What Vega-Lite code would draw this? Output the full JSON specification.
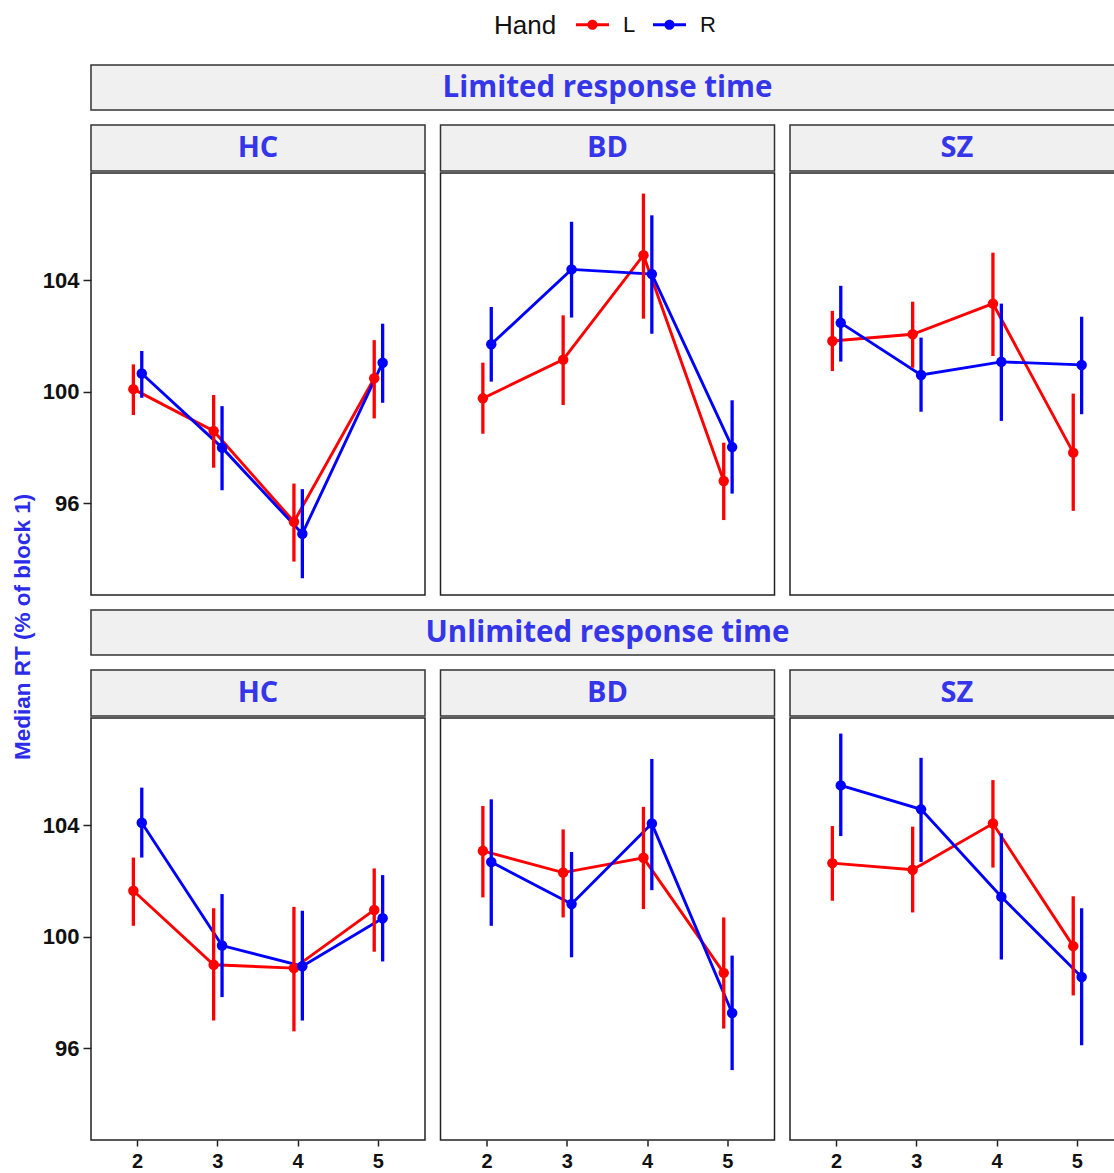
{
  "$schema": "https://vega.github.io/schema/vega-lite/v6.json",
  "padding": {"left": 12, "top": 8, "right": 0, "bottom": 2},
  "background": "white",
  "title": {"text": "Median RT (% of block 1)", "orient": "left", "anchor": "middle", "frame": "bounds", "font": "Liberation Sans", "fontWeight": "bold", "fontSize": 22.5, "color": "#2B2BEA", "offset": 7, "dx": -37},
  "datasets": {
    "rt": [
      {"cond": "Limited", "group": "HC", "block": 2, "hand": "L", "rt": 100.09, "lo": 99.16, "hi": 100.98},
      {"cond": "Limited", "group": "HC", "block": 3, "hand": "L", "rt": 98.59, "lo": 97.27, "hi": 99.88},
      {"cond": "Limited", "group": "HC", "block": 4, "hand": "L", "rt": 95.33, "lo": 93.9, "hi": 96.7},
      {"cond": "Limited", "group": "HC", "block": 5, "hand": "L", "rt": 100.48, "lo": 99.04, "hi": 101.85},
      {"cond": "Limited", "group": "HC", "block": 2, "hand": "R", "rt": 100.65, "lo": 99.78, "hi": 101.46},
      {"cond": "Limited", "group": "HC", "block": 3, "hand": "R", "rt": 97.99, "lo": 96.46, "hi": 99.48},
      {"cond": "Limited", "group": "HC", "block": 4, "hand": "R", "rt": 94.9, "lo": 93.3, "hi": 96.5},
      {"cond": "Limited", "group": "HC", "block": 5, "hand": "R", "rt": 101.04, "lo": 99.6, "hi": 102.44},
      {"cond": "Limited", "group": "BD", "block": 2, "hand": "L", "rt": 99.76, "lo": 98.49, "hi": 101.04},
      {"cond": "Limited", "group": "BD", "block": 3, "hand": "L", "rt": 101.15, "lo": 99.52, "hi": 102.74},
      {"cond": "Limited", "group": "BD", "block": 4, "hand": "L", "rt": 104.9, "lo": 102.62, "hi": 107.11},
      {"cond": "Limited", "group": "BD", "block": 5, "hand": "L", "rt": 96.79, "lo": 95.39, "hi": 98.17},
      {"cond": "Limited", "group": "BD", "block": 2, "hand": "R", "rt": 101.7, "lo": 100.36, "hi": 103.04},
      {"cond": "Limited", "group": "BD", "block": 3, "hand": "R", "rt": 104.39, "lo": 102.66, "hi": 106.1},
      {"cond": "Limited", "group": "BD", "block": 4, "hand": "R", "rt": 104.22, "lo": 102.08, "hi": 106.33},
      {"cond": "Limited", "group": "BD", "block": 5, "hand": "R", "rt": 98.01, "lo": 96.34, "hi": 99.69},
      {"cond": "Limited", "group": "SZ", "block": 2, "hand": "L", "rt": 101.82, "lo": 100.74, "hi": 102.9},
      {"cond": "Limited", "group": "SZ", "block": 3, "hand": "L", "rt": 102.06, "lo": 100.86, "hi": 103.23},
      {"cond": "Limited", "group": "SZ", "block": 4, "hand": "L", "rt": 103.16, "lo": 101.28, "hi": 104.99},
      {"cond": "Limited", "group": "SZ", "block": 5, "hand": "L", "rt": 97.81, "lo": 95.72, "hi": 99.93},
      {"cond": "Limited", "group": "SZ", "block": 2, "hand": "R", "rt": 102.47, "lo": 101.08, "hi": 103.8},
      {"cond": "Limited", "group": "SZ", "block": 3, "hand": "R", "rt": 100.6, "lo": 99.28, "hi": 101.94},
      {"cond": "Limited", "group": "SZ", "block": 4, "hand": "R", "rt": 101.07, "lo": 98.95, "hi": 103.16},
      {"cond": "Limited", "group": "SZ", "block": 5, "hand": "R", "rt": 100.96, "lo": 99.19, "hi": 102.69},
      {"cond": "Unlimited", "group": "HC", "block": 2, "hand": "L", "rt": 101.65, "lo": 100.39, "hi": 102.84},
      {"cond": "Unlimited", "group": "HC", "block": 3, "hand": "L", "rt": 98.99, "lo": 96.99, "hi": 101.02},
      {"cond": "Unlimited", "group": "HC", "block": 4, "hand": "L", "rt": 98.87, "lo": 96.6, "hi": 101.07},
      {"cond": "Unlimited", "group": "HC", "block": 5, "hand": "L", "rt": 100.96, "lo": 99.46, "hi": 102.45},
      {"cond": "Unlimited", "group": "HC", "block": 2, "hand": "R", "rt": 104.09, "lo": 102.84, "hi": 105.35},
      {"cond": "Unlimited", "group": "HC", "block": 3, "hand": "R", "rt": 99.68, "lo": 97.83, "hi": 101.53},
      {"cond": "Unlimited", "group": "HC", "block": 4, "hand": "R", "rt": 98.94, "lo": 96.99, "hi": 100.93},
      {"cond": "Unlimited", "group": "HC", "block": 5, "hand": "R", "rt": 100.66, "lo": 99.11, "hi": 102.21},
      {"cond": "Unlimited", "group": "BD", "block": 2, "hand": "L", "rt": 103.08, "lo": 101.41, "hi": 104.69},
      {"cond": "Unlimited", "group": "BD", "block": 3, "hand": "L", "rt": 102.3, "lo": 100.69, "hi": 103.85},
      {"cond": "Unlimited", "group": "BD", "block": 4, "hand": "L", "rt": 102.83, "lo": 100.99, "hi": 104.66},
      {"cond": "Unlimited", "group": "BD", "block": 5, "hand": "L", "rt": 98.7, "lo": 96.7, "hi": 100.69},
      {"cond": "Unlimited", "group": "BD", "block": 2, "hand": "R", "rt": 102.68, "lo": 100.39, "hi": 104.93},
      {"cond": "Unlimited", "group": "BD", "block": 3, "hand": "R", "rt": 101.17, "lo": 99.26, "hi": 103.04},
      {"cond": "Unlimited", "group": "BD", "block": 4, "hand": "R", "rt": 104.06, "lo": 101.67, "hi": 106.38},
      {"cond": "Unlimited", "group": "BD", "block": 5, "hand": "R", "rt": 97.26, "lo": 95.21, "hi": 99.32},
      {"cond": "Unlimited", "group": "SZ", "block": 2, "hand": "L", "rt": 102.64, "lo": 101.29, "hi": 103.97},
      {"cond": "Unlimited", "group": "SZ", "block": 3, "hand": "L", "rt": 102.4, "lo": 100.87, "hi": 103.95},
      {"cond": "Unlimited", "group": "SZ", "block": 4, "hand": "L", "rt": 104.06, "lo": 102.48, "hi": 105.62},
      {"cond": "Unlimited", "group": "SZ", "block": 5, "hand": "L", "rt": 99.66, "lo": 97.89, "hi": 101.45},
      {"cond": "Unlimited", "group": "SZ", "block": 2, "hand": "R", "rt": 105.43, "lo": 103.61, "hi": 107.29},
      {"cond": "Unlimited", "group": "SZ", "block": 3, "hand": "R", "rt": 104.57, "lo": 102.68, "hi": 106.42},
      {"cond": "Unlimited", "group": "SZ", "block": 4, "hand": "R", "rt": 101.43, "lo": 99.18, "hi": 103.71},
      {"cond": "Unlimited", "group": "SZ", "block": 5, "hand": "R", "rt": 98.55, "lo": 96.1, "hi": 101.02}
    ]
  },
  "spacing": 13,
  "resolve": {"scale": {"x": "independent", "y": "independent", "xOffset": "independent"}},
  "vconcat": [
    {
      "width": 1033, "height": 45,
      "data": {"values": [{"t": "Limited response time"}]},
      "view": {"fill": "#f0f0f0", "stroke": "#333333", "strokeWidth": 1.5},
      "mark": {"type": "text", "font": "Open Sans", "fontWeight": "bold", "fontSize": 29.5, "color": "#3535EA"},
      "encoding": {"text": {"field": "t"}}
    },
    {
      "spacing": 13.5,
      "resolve": {"scale": {"x": "independent", "y": "independent", "xOffset": "independent"}},
      "hconcat": [
        {
          "spacing": 0,
          "resolve": {"scale": {"x": "independent", "y": "independent", "xOffset": "independent"}},
          "vconcat": [
            {
              "width": 334, "height": 46,
              "data": {"values": [{"t": "HC"}]},
              "view": {"fill": "#f0f0f0", "stroke": "#333333", "strokeWidth": 1.5},
              "mark": {"type": "text", "font": "Open Sans", "fontWeight": "bold", "fontSize": 29, "color": "#3535EA"},
              "encoding": {"text": {"field": "t"}}
            },
            {
              "width": 334, "height": 422,
              "view": {"stroke": "#222222", "strokeWidth": 1.5},
              "data": {"name": "rt"},
              "transform": [{"filter": "datum.cond === 'Limited' && datum.group === 'HC'"}],
              "encoding": {
                "x": {"field": "block", "type": "ordinal", "scale": {"type": "band", "paddingInner": 0, "paddingOuter": 0.08}, "axis": null},
                "xOffset": {"field": "hand", "type": "nominal", "scale": {"type": "point", "padding": 0, "range": [35.94, 44.34]}},
                "color": {"field": "hand", "type": "nominal", "title": "Hand", "scale": {"domain": ["L", "R"], "range": ["#ff0000", "#0000ff"]}, "legend": {"orient": "none", "legendX": 403, "legendY": -57, "symbolSize": 1089, "encode": {"symbols": {"update": {"size": {"value": 1089}, "strokeWidth": {"value": 0}}}, "title": {"update": {"dy": {"value": 4}}}}}},
                "y": {"field": "rt", "type": "quantitative", "scale": {"domain": [92.7, 107.85], "nice": false, "zero": false}, "axis": {"values": [96, 100, 104], "title": null, "domain": false, "grid": false, "ticks": true, "tickSize": 8, "tickWidth": 1.5, "tickColor": "#222222", "labelPadding": 4, "labelFont": "Liberation Sans", "labelFontWeight": "bold", "labelFontSize": 22, "labelColor": "#111111"}}
              },
              "layer": [
                {"mark": {"type": "line", "strokeWidth": 2.9}},
                {"mark": {"type": "rule", "strokeWidth": 3.3}, "encoding": {"y": {"field": "lo", "type": "quantitative", "title": null}, "y2": {"field": "hi"}}},
                {"mark": {"type": "point", "filled": true, "size": 110, "opacity": 1}}
              ]
            }
          ]
        },
        {
          "spacing": 0,
          "resolve": {"scale": {"x": "independent", "y": "independent", "xOffset": "independent"}},
          "vconcat": [
            {
              "width": 334, "height": 46,
              "data": {"values": [{"t": "BD"}]},
              "view": {"fill": "#f0f0f0", "stroke": "#333333", "strokeWidth": 1.5},
              "mark": {"type": "text", "font": "Open Sans", "fontWeight": "bold", "fontSize": 29, "color": "#3535EA"},
              "encoding": {"text": {"field": "t"}}
            },
            {
              "width": 334, "height": 422,
              "view": {"stroke": "#222222", "strokeWidth": 1.5},
              "data": {"name": "rt"},
              "transform": [{"filter": "datum.cond === 'Limited' && datum.group === 'BD'"}],
              "encoding": {
                "x": {"field": "block", "type": "ordinal", "scale": {"type": "band", "paddingInner": 0, "paddingOuter": 0.08}, "axis": null},
                "xOffset": {"field": "hand", "type": "nominal", "scale": {"type": "point", "padding": 0, "range": [35.94, 44.34]}},
                "color": {"field": "hand", "type": "nominal", "title": "Hand", "scale": {"domain": ["L", "R"], "range": ["#ff0000", "#0000ff"]}},
                "y": {"field": "rt", "type": "quantitative", "scale": {"domain": [92.7, 107.85], "nice": false, "zero": false}, "axis": null}
              },
              "layer": [
                {"mark": {"type": "line", "strokeWidth": 2.9}},
                {"mark": {"type": "rule", "strokeWidth": 3.3}, "encoding": {"y": {"field": "lo", "type": "quantitative", "axis": null}, "y2": {"field": "hi"}}},
                {"mark": {"type": "point", "filled": true, "size": 110, "opacity": 1}}
              ]
            }
          ]
        },
        {
          "spacing": 0,
          "resolve": {"scale": {"x": "independent", "y": "independent", "xOffset": "independent"}},
          "vconcat": [
            {
              "width": 334, "height": 46,
              "data": {"values": [{"t": "SZ"}]},
              "view": {"fill": "#f0f0f0", "stroke": "#333333", "strokeWidth": 1.5},
              "mark": {"type": "text", "font": "Open Sans", "fontWeight": "bold", "fontSize": 29, "color": "#3535EA"},
              "encoding": {"text": {"field": "t"}}
            },
            {
              "width": 334, "height": 422,
              "view": {"stroke": "#222222", "strokeWidth": 1.5},
              "data": {"name": "rt"},
              "transform": [{"filter": "datum.cond === 'Limited' && datum.group === 'SZ'"}],
              "encoding": {
                "x": {"field": "block", "type": "ordinal", "scale": {"type": "band", "paddingInner": 0, "paddingOuter": 0.08}, "axis": null},
                "xOffset": {"field": "hand", "type": "nominal", "scale": {"type": "point", "padding": 0, "range": [35.94, 44.34]}},
                "color": {"field": "hand", "type": "nominal", "title": "Hand", "scale": {"domain": ["L", "R"], "range": ["#ff0000", "#0000ff"]}},
                "y": {"field": "rt", "type": "quantitative", "scale": {"domain": [92.7, 107.85], "nice": false, "zero": false}, "axis": null}
              },
              "layer": [
                {"mark": {"type": "line", "strokeWidth": 2.9}},
                {"mark": {"type": "rule", "strokeWidth": 3.3}, "encoding": {"y": {"field": "lo", "type": "quantitative", "axis": null}, "y2": {"field": "hi"}}},
                {"mark": {"type": "point", "filled": true, "size": 110, "opacity": 1}}
              ]
            }
          ]
        }
      ]
    },
    {
      "width": 1033, "height": 45,
      "data": {"values": [{"t": "Unlimited response time"}]},
      "view": {"fill": "#f0f0f0", "stroke": "#333333", "strokeWidth": 1.5},
      "mark": {"type": "text", "font": "Open Sans", "fontWeight": "bold", "fontSize": 29.5, "color": "#3535EA"},
      "encoding": {"text": {"field": "t"}}
    },
    {
      "spacing": 13.5,
      "resolve": {"scale": {"x": "independent", "y": "independent", "xOffset": "independent"}},
      "hconcat": [
        {
          "spacing": 0,
          "resolve": {"scale": {"x": "independent", "y": "independent", "xOffset": "independent"}},
          "vconcat": [
            {
              "width": 334, "height": 46,
              "data": {"values": [{"t": "HC"}]},
              "view": {"fill": "#f0f0f0", "stroke": "#333333", "strokeWidth": 1.5},
              "mark": {"type": "text", "font": "Open Sans", "fontWeight": "bold", "fontSize": 29, "color": "#3535EA"},
              "encoding": {"text": {"field": "t"}}
            },
            {
              "width": 334, "height": 422,
              "view": {"stroke": "#222222", "strokeWidth": 1.5},
              "data": {"name": "rt"},
              "transform": [{"filter": "datum.cond === 'Unlimited' && datum.group === 'HC'"}],
              "encoding": {
                "x": {"field": "block", "type": "ordinal", "scale": {"type": "band", "paddingInner": 0, "paddingOuter": 0.08}, "axis": {"title": null, "domain": false, "grid": false, "tickSize": 6, "tickWidth": 1.5, "tickColor": "#222222", "labelAngle": 0, "labelPadding": 5, "labelFont": "Liberation Sans", "labelFontWeight": "bold", "labelFontSize": 20, "labelColor": "#111111"}},
                "xOffset": {"field": "hand", "type": "nominal", "scale": {"type": "point", "padding": 0, "range": [35.94, 44.34]}},
                "color": {"field": "hand", "type": "nominal", "title": "Hand", "scale": {"domain": ["L", "R"], "range": ["#ff0000", "#0000ff"]}},
                "y": {"field": "rt", "type": "quantitative", "scale": {"domain": [92.7, 107.85], "nice": false, "zero": false}, "axis": {"values": [96, 100, 104], "title": null, "domain": false, "grid": false, "ticks": true, "tickSize": 8, "tickWidth": 1.5, "tickColor": "#222222", "labelPadding": 4, "labelFont": "Liberation Sans", "labelFontWeight": "bold", "labelFontSize": 22, "labelColor": "#111111"}}
              },
              "layer": [
                {"mark": {"type": "line", "strokeWidth": 2.9}},
                {"mark": {"type": "rule", "strokeWidth": 3.3}, "encoding": {"y": {"field": "lo", "type": "quantitative", "title": null}, "y2": {"field": "hi"}}},
                {"mark": {"type": "point", "filled": true, "size": 110, "opacity": 1}}
              ]
            }
          ]
        },
        {
          "spacing": 0,
          "resolve": {"scale": {"x": "independent", "y": "independent", "xOffset": "independent"}},
          "vconcat": [
            {
              "width": 334, "height": 46,
              "data": {"values": [{"t": "BD"}]},
              "view": {"fill": "#f0f0f0", "stroke": "#333333", "strokeWidth": 1.5},
              "mark": {"type": "text", "font": "Open Sans", "fontWeight": "bold", "fontSize": 29, "color": "#3535EA"},
              "encoding": {"text": {"field": "t"}}
            },
            {
              "width": 334, "height": 422,
              "view": {"stroke": "#222222", "strokeWidth": 1.5},
              "data": {"name": "rt"},
              "transform": [{"filter": "datum.cond === 'Unlimited' && datum.group === 'BD'"}],
              "encoding": {
                "x": {"field": "block", "type": "ordinal", "scale": {"type": "band", "paddingInner": 0, "paddingOuter": 0.08}, "axis": {"title": null, "domain": false, "grid": false, "tickSize": 6, "tickWidth": 1.5, "tickColor": "#222222", "labelAngle": 0, "labelPadding": 5, "labelFont": "Liberation Sans", "labelFontWeight": "bold", "labelFontSize": 20, "labelColor": "#111111"}},
                "xOffset": {"field": "hand", "type": "nominal", "scale": {"type": "point", "padding": 0, "range": [35.94, 44.34]}},
                "color": {"field": "hand", "type": "nominal", "title": "Hand", "scale": {"domain": ["L", "R"], "range": ["#ff0000", "#0000ff"]}},
                "y": {"field": "rt", "type": "quantitative", "scale": {"domain": [92.7, 107.85], "nice": false, "zero": false}, "axis": null}
              },
              "layer": [
                {"mark": {"type": "line", "strokeWidth": 2.9}},
                {"mark": {"type": "rule", "strokeWidth": 3.3}, "encoding": {"y": {"field": "lo", "type": "quantitative", "axis": null}, "y2": {"field": "hi"}}},
                {"mark": {"type": "point", "filled": true, "size": 110, "opacity": 1}}
              ]
            }
          ]
        },
        {
          "spacing": 0,
          "resolve": {"scale": {"x": "independent", "y": "independent", "xOffset": "independent"}},
          "vconcat": [
            {
              "width": 334, "height": 46,
              "data": {"values": [{"t": "SZ"}]},
              "view": {"fill": "#f0f0f0", "stroke": "#333333", "strokeWidth": 1.5},
              "mark": {"type": "text", "font": "Open Sans", "fontWeight": "bold", "fontSize": 29, "color": "#3535EA"},
              "encoding": {"text": {"field": "t"}}
            },
            {
              "width": 334, "height": 422,
              "view": {"stroke": "#222222", "strokeWidth": 1.5},
              "data": {"name": "rt"},
              "transform": [{"filter": "datum.cond === 'Unlimited' && datum.group === 'SZ'"}],
              "encoding": {
                "x": {"field": "block", "type": "ordinal", "scale": {"type": "band", "paddingInner": 0, "paddingOuter": 0.08}, "axis": {"title": null, "domain": false, "grid": false, "tickSize": 6, "tickWidth": 1.5, "tickColor": "#222222", "labelAngle": 0, "labelPadding": 5, "labelFont": "Liberation Sans", "labelFontWeight": "bold", "labelFontSize": 20, "labelColor": "#111111"}},
                "xOffset": {"field": "hand", "type": "nominal", "scale": {"type": "point", "padding": 0, "range": [35.94, 44.34]}},
                "color": {"field": "hand", "type": "nominal", "title": "Hand", "scale": {"domain": ["L", "R"], "range": ["#ff0000", "#0000ff"]}},
                "y": {"field": "rt", "type": "quantitative", "scale": {"domain": [92.7, 107.85], "nice": false, "zero": false}, "axis": null}
              },
              "layer": [
                {"mark": {"type": "line", "strokeWidth": 2.9}},
                {"mark": {"type": "rule", "strokeWidth": 3.3}, "encoding": {"y": {"field": "lo", "type": "quantitative", "axis": null}, "y2": {"field": "hi"}}},
                {"mark": {"type": "point", "filled": true, "size": 110, "opacity": 1}}
              ]
            }
          ]
        }
      ]
    }
  ],
  "config": {
    "legend": {
      "orient": "none",
      "direction": "horizontal",
      "titleOrient": "left",
      "titleAnchor": "middle",
      "titleBaseline": "middle",
      "titleFont": "Liberation Sans",
      "titleFontSize": 26,
      "titleFontWeight": "normal",
      "titleColor": "#111111",
      "titlePadding": 19,
      "labelFont": "Liberation Sans",
      "labelFontSize": 22,
      "labelColor": "#111111",
      "labelOffset": 14,
      "columnPadding": 17,
      "symbolType": "M-1,-0.09H1V0.09H-1Z M-0.31,0A0.31,0.31 0 1,1 0.31,0A0.31,0.31 0 1,1 -0.31,0Z",
      "symbolSize": 1089,
      "symbolStrokeWidth": 0
    }
  }
}
